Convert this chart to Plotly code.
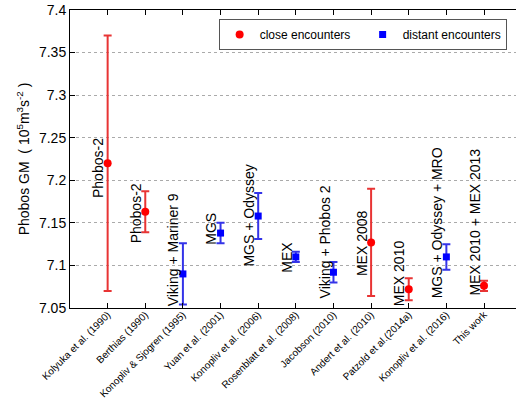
import plotly.graph_objects as go

refs = ["Kolyuka et al. (1990)", "Berthias (1990)", "Konopliv & Sjogren (1995)",
        "Yuan et al. (2001)", "Konopliv et al. (2006)", "Rosenblatt et al. (2008)",
        "Jacobson (2010)", "Andert et al. (2010)", "Patzold et al.(2014a)",
        "Konopliv et al. (2016)", "This work"]
gm = [7.220, 7.163, 7.090, 7.138, 7.158, 7.110, 7.092, 7.127, 7.072, 7.110, 7.076]
err = [0.150, 0.024, 0.036, 0.012, 0.027, 0.006, 0.012, 0.063, 0.013, 0.015, 0.006]
kind = ["close", "close", "distant", "distant", "distant", "distant", "distant",
        "close", "close", "distant", "close"]
mission = ["Phobos-2", "Phobos-2", "Viking + Mariner 9", "MGS", "MGS + Odyssey", "MEX",
           "Viking + Phobos 2", "MEX 2008", "MEX 2010", "MGS + Odyssey + MRO",
           "MEX 2010 + MEX 2013"]
label_mid = [7.214, 7.1615, 7.1188, 7.1426, 7.1588, 7.1101, 7.1276, 7.1264, 7.0906,
             7.1499, 7.1503]
yticks = [7.05, 7.1, 7.15, 7.2, 7.25, 7.3, 7.35, 7.4]
ytick_text = ["7.05", "7.1", "7.15", "7.2", "7.25", "7.3", "7.35", "7.4"]

xpos = list(range(1, len(refs) + 1))

fig = go.Figure()
for k, name, mcol, ecol, sym, size in [
    ("close", "close encounters", "#ff0000", "#e83434", "circle", 8),
    ("distant", "distant encounters", "#0000ff", "#3434e8", "square", 7),
]:
    idx = [i for i in range(len(refs)) if kind[i] == k]
    fig.add_trace(go.Scatter(
        x=[xpos[i] for i in idx], y=[gm[i] for i in idx],
        mode="markers", name=name,
        marker=dict(color=mcol, symbol=sym, size=size),
        error_y=dict(type="data", array=[err[i] for i in idx], visible=True,
                     color=ecol, thickness=2, width=4),
    ))

for i in range(len(refs)):
    fig.add_annotation(x=xpos[i], y=label_mid[i], text=mission[i], textangle=-90,
                       xanchor="center", yanchor="middle", xshift=-9,
                       showarrow=False, font=dict(size=14, color="#000"))

ytitle = ("\u00a0" * 7 + "Phobos GM\u00a0\u00a0(\u00a010<sup>5</sup>m<sup>3</sup>"
          "s<sup>-2</sup>\u00a0)")

fig.update_layout(
    width=516, height=402,
    margin=dict(l=70, r=0, t=10, b=94, autoexpand=False),
    paper_bgcolor="white", plot_bgcolor="white",
    font=dict(family="Liberation Sans, Arial, sans-serif", color="#000"),
    legend=dict(orientation="h", x=0.979, xanchor="right", y=0.97, yanchor="top",
                bordercolor="#555", borderwidth=1, font=dict(size=12),
                bgcolor="white", entrywidth=98, entrywidthmode="pixels"),
    showlegend=True,
)
fig.update_xaxes(range=[0, 11.85], tickvals=xpos, ticktext=refs, tickangle=-45,
                 tickfont=dict(size=10), showline=True, linecolor="#000", linewidth=1,
                 mirror="ticks", ticks="inside", ticklen=5, tickcolor="#000",
                 showgrid=False, zeroline=False, automargin=False,
                 ticklabeloverflow="allow", ticklabelstandoff=-4)
fig.update_yaxes(range=[7.05, 7.4], tickvals=yticks, ticktext=ytick_text,
                 tickfont=dict(size=14), showline=True, linecolor="#000", linewidth=1,
                 ticks="inside", ticklen=5, tickcolor="#000",
                 showgrid=True, gridcolor="#aaaaaa", griddash="dot", gridwidth=1,
                 zeroline=False, automargin=False, ticklabeloverflow="allow",
                 title=dict(text=ytitle, font=dict(size=14), standoff=6))

fig.write_html("out.html", config={"displayModeBar": False},
               post_script="document.body.style.margin='0';")
